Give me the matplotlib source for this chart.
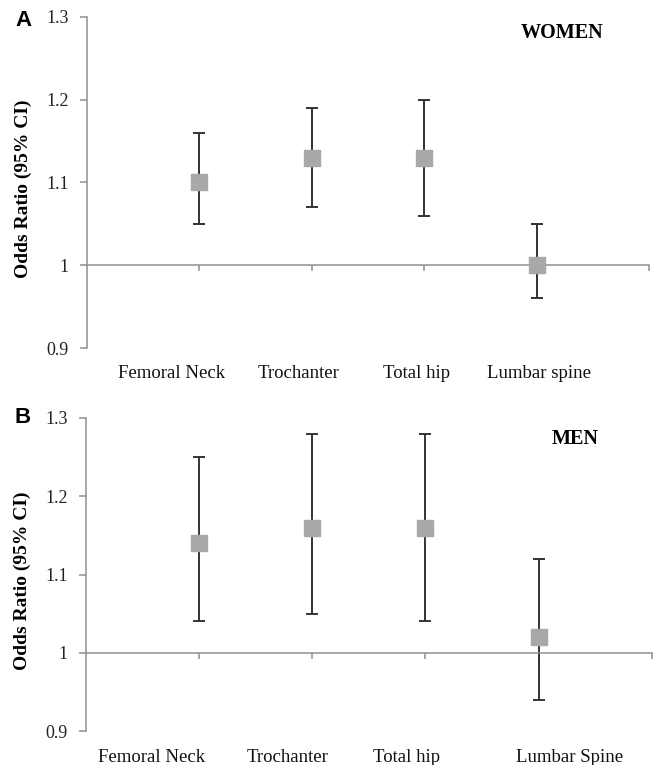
import matplotlib
matplotlib.use('Agg')
import matplotlib.pyplot as plt
import numpy as np

# данные
sites_women = ['Femoral Neck', 'Trochanter', 'Total hip', 'Lumbar spine']
or_women = [1.10, 1.13, 1.13, 1.00]
lo_women = [1.05, 1.07, 1.06, 0.96]
hi_women = [1.16, 1.19, 1.20, 1.05]

sites_men = ['Femoral Neck', 'Trochanter', 'Total hip', 'Lumbar Spine']
or_men = [1.14, 1.16, 1.16, 1.02]
lo_men = [1.04, 1.05, 1.04, 0.94]
hi_men = [1.25, 1.28, 1.28, 1.12]

yticks = [0.9, 1.0, 1.1, 1.2, 1.3]
ytick_labels = ['0.9', '1', '1.1', '1.2', '1.3']

AXIS_GRAY = '#8f8f8f'
BAR_DARK = '#333333'
MARK_GRAY = '#a8a8a8'
SERIF = ['Liberation Serif', 'DejaVu Serif']
SANS = ['Liberation Sans', 'DejaVu Sans']


# рисует одну панель
def draw_panel(ax, sites, odds, lo, hi, letter, letter_y, title, title_xy, label_shift, label_pad):
    x = np.arange(1, len(sites) + 1)
    odds = np.array(odds)
    err = [odds - np.array(lo), np.array(hi) - odds]
    ax.errorbar(x, odds, yerr=err, fmt='none', ecolor=BAR_DARK, elinewidth=1.4,
                capsize=4.5, capthick=1.4, zorder=2)
    ax.plot(x, odds, 's', color=MARK_GRAY, markersize=11.5, zorder=3)

    ax.set_xlim(0, 5)
    ax.set_ylim(0.9, 1.3)
    ax.set_yticks(yticks)
    ax.set_yticklabels(ytick_labels, family=SERIF, fontsize=13, color='#222222')
    ax.tick_params(axis='y', direction='out', length=5, width=1.1, color=AXIS_GRAY, pad=8)

    for s in ['top', 'right']:
        ax.spines[s].set_visible(False)
    ax.spines['left'].set_color(AXIS_GRAY)
    ax.spines['left'].set_linewidth(1.1)
    # ось x проходит через 1
    ax.spines['bottom'].set_position(('data', 1.0))
    ax.spines['bottom'].set_color(AXIS_GRAY)
    ax.spines['bottom'].set_linewidth(1.1)
    ax.set_xticks([1, 2, 3, 4, 5])
    ax.set_xticklabels([])
    ax.tick_params(axis='x', direction='out', length=4, width=1.1, color=AXIS_GRAY)

    for i, s in enumerate(sites):
        ax.annotate(s, xy=(x[i] + label_shift[i], 0), xycoords=('data', 'axes fraction'),
                    xytext=(0, -label_pad), textcoords='offset points',
                    ha='center', va='center', family=SERIF, fontsize=13.5, color='#111111')

    ax.set_ylabel('Odds Ratio (95% CI)', family=SERIF, fontsize=14, fontweight='bold')
    ax.yaxis.set_label_coords(-0.097, 0.48)
    ax.text(-0.112, letter_y, letter, transform=ax.transAxes, family=SANS, fontsize=16,
            fontweight='bold', ha='center', va='center')
    ax.text(title_xy[0], title_xy[1], title, transform=ax.transAxes, family=SERIF,
            fontsize=14.5, fontweight='bold', ha='center', va='center')


fig = plt.figure(figsize=(6.61, 7.65), dpi=100)
ax1 = fig.add_axes([0.1316, 0.545, 0.851, 0.433])
ax2 = fig.add_axes([0.1301, 0.0444, 0.856, 0.4092])

draw_panel(ax1, sites_women, or_women, lo_women, hi_women, 'A', 0.99, 'WOMEN', (0.845, 0.95),
           [-0.25, -0.12, -0.07, 0.02], 18)
draw_panel(ax2, sites_men, or_men, lo_men, hi_men, 'B', 1.0, 'MEN', (0.864, 0.933),
           [-0.42, -0.22, -0.17, 0.27], 19)

fig.savefig('out.png', dpi=100)
